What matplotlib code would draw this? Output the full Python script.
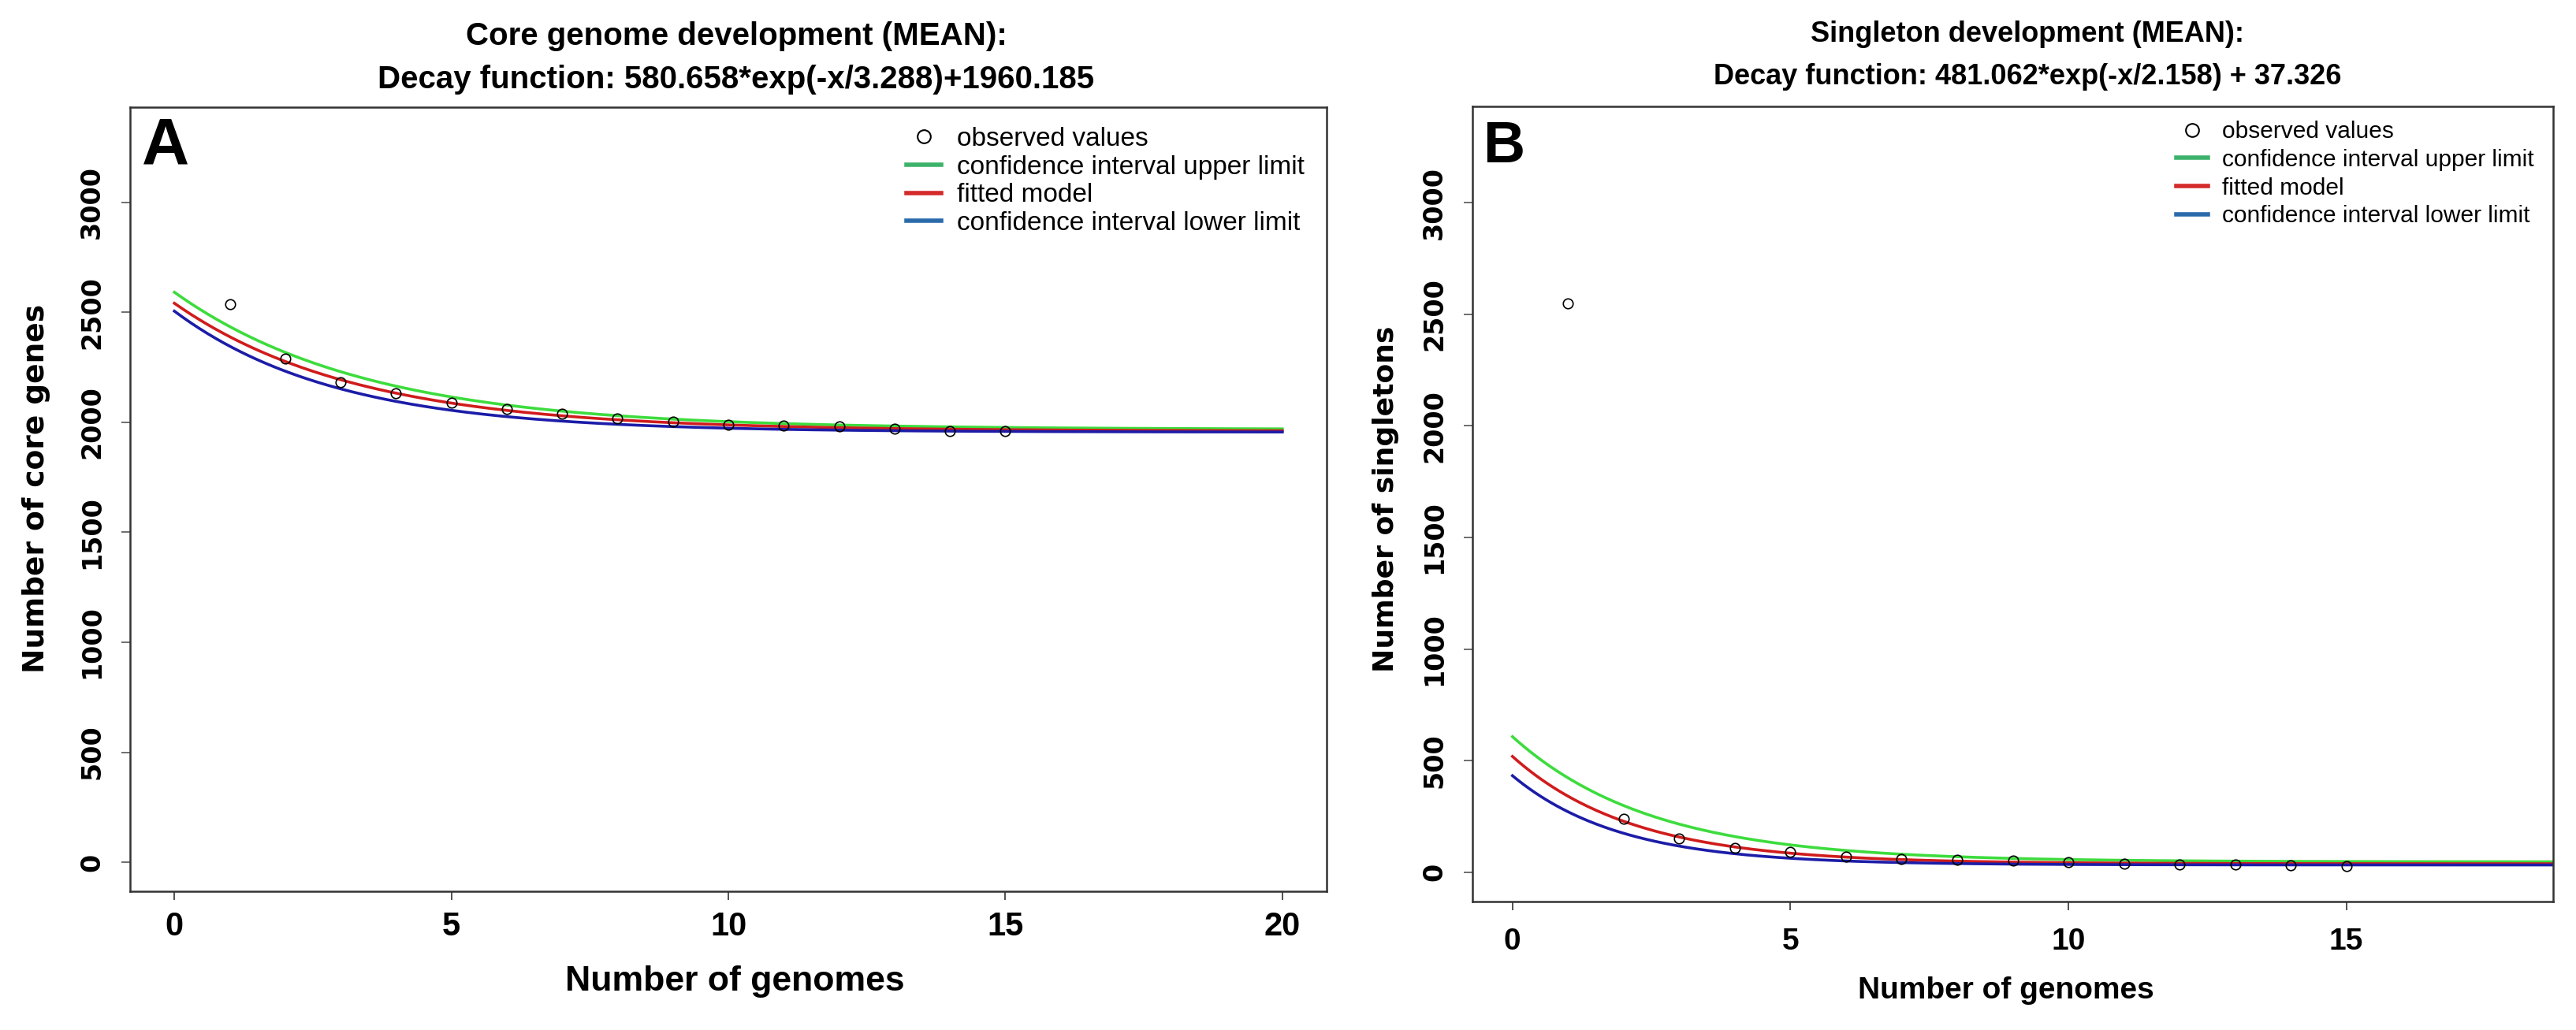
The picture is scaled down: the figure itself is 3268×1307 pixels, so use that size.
import numpy as np
import matplotlib
matplotlib.use("Agg")
import matplotlib.pyplot as plt
from matplotlib.lines import Line2D

genomes = [1, 2, 3, 4, 5, 6, 7, 8, 9, 10, 11, 12, 13, 14, 15]
core_obs = [2538, 2288, 2183, 2130, 2088, 2059, 2037, 2017, 2002, 1990, 1984, 1980, 1969, 1961, 1961]
single_obs = [2548, 239, 150, 108, 90, 68, 60, 56, 52, 45, 39, 34, 33, 31, 28]

# decay curves a*exp(-x/tau)+c : fitted model from the titles, CI limits estimated
core_fit = [580.658, 3.288, 1960.185]
core_upper = [623.0, 3.46, 1968.0]
core_lower = [550.0, 2.92, 1955.0]
single_fit = [481.062, 2.158, 37.326]
single_upper = [561.0, 2.5, 46.0]
single_lower = [400.0, 1.93, 32.0]

y_ticks = [0, 500, 1000, 1500, 2000, 2500, 3000]

W, H = 3268, 1307
fig = plt.figure(figsize=(W / 100, H / 100), dpi=100)
fig.patch.set_facecolor("white")

ax1 = fig.add_axes([165 / W, 1 - 1131 / H, (1683 - 165) / W, (1131 - 136) / H])
ax2 = fig.add_axes([1868 / W, 1 - 1144 / H, (3239 - 1868) / W, (1144 - 135) / H])

col_up, col_fit, col_low = "#3ddc3d", "#d01c1c", "#1c1ca8"


def decay(p, x):
    return p[0] * np.exp(-x / p[1]) + p[2]


def draw_panel(ax, obs, fit, up, low, xmax, xticks, xpad, xfs):
    xs = np.linspace(0, 20, 400)
    ax.plot(xs, decay(up, xs), color=col_up, lw=2.6)
    ax.plot(xs, decay(fit, xs), color=col_fit, lw=2.6)
    ax.plot(xs, decay(low, xs), color=col_low, lw=2.6)
    ax.plot(genomes, obs, "o", mfc="none", mec="black", ms=9, mew=1.2)
    ax.set_xlim(-0.04 * xmax, xmax * 1.04)
    ax.set_ylim(-132, 3432)
    ax.set_xticks(xticks)
    ax.set_xticklabels([str(t) for t in xticks], fontfamily="Liberation Sans",
                       fontweight="bold", fontsize=xfs)
    ax.set_yticks(y_ticks)
    ax.set_yticklabels([str(t) for t in y_ticks], rotation=90, va="center",
                       fontfamily="DejaVu Sans", fontweight="bold", fontsize=24)
    ax.tick_params(axis="x", length=8, width=1.2, pad=xpad, color="#333333")
    ax.tick_params(axis="y", length=8, width=1.2, pad=15, color="#555555")
    for s in ax.spines.values():
        s.set_color("#333333")
        s.set_linewidth(1.8)


draw_panel(ax1, core_obs, core_fit, core_upper, core_lower, 20, [0, 5, 10, 15, 20], 10, 30)
draw_panel(ax2, single_obs, single_fit, single_upper, single_lower, 18, [0, 5, 10, 15], 16, 28)

# legends
labels = ["observed values", "confidence interval upper limit", "fitted model",
          "confidence interval lower limit"]
handles = [Line2D([], [], ls="none", marker="o", mfc="none", mec="black", ms=12, mew=1.5),
           Line2D([], [], color="#3cb36a", lw=4),
           Line2D([], [], color="#d42a2a", lw=4),
           Line2D([], [], color="#2a6aaa", lw=4)]
ax1.legend(handles, labels, loc="upper left", bbox_to_anchor=(0.649, 0.975), frameon=False,
           prop={"family": "Liberation Sans", "size": 24}, handlelength=1.3,
           handletextpad=0.6, labelspacing=0.14, borderpad=0, borderaxespad=0)
ax2.legend(handles, labels, loc="upper left", bbox_to_anchor=(0.651, 0.982), frameon=False,
           prop={"family": "Liberation Sans", "size": 21.5}, handlelength=1.35,
           handletextpad=0.6, labelspacing=0.26, borderpad=0, borderaxespad=0)

# titles
fig.text(934 / W, 1 - 57 / H, "Core genome development (MEAN):", ha="center", va="baseline",
         fontfamily="Liberation Sans", fontweight="bold", fontsize=29)
fig.text(934 / W, 1 - 112 / H, "Decay function: 580.658*exp(-x/3.288)+1960.185", ha="center",
         va="baseline", fontfamily="Liberation Sans", fontweight="bold", fontsize=29)
fig.text(2572 / W, 1 - 53 / H, "Singleton development (MEAN):", ha="center", va="baseline",
         fontfamily="Liberation Sans", fontweight="bold", fontsize=26)
fig.text(2572 / W, 1 - 107 / H, "Decay function: 481.062*exp(-x/2.158) + 37.326", ha="center",
         va="baseline", fontfamily="Liberation Sans", fontweight="bold", fontsize=26)

# panel letters
fig.text(180 / W, 1 - 208 / H, "A", ha="left", va="baseline", fontfamily="Liberation Sans",
         fontweight="bold", fontsize=60)
fig.text(1881 / W, 1 - 206 / H, "B", ha="left", va="baseline", fontfamily="Liberation Sans",
         fontweight="bold", fontsize=53)

# axis labels
fig.text(46 / W, 1 - 620 / H, "Number of core genes", rotation=90, ha="center", va="center",
         fontfamily="DejaVu Sans", fontweight="bold", fontsize=27)
fig.text(1758 / W, 1 - 633 / H, "Number of singletons", rotation=90, ha="center", va="center",
         fontfamily="DejaVu Sans", fontweight="bold", fontsize=26)
fig.text(932 / W, 1 - 1245 / H, "Number of genomes", ha="center", va="center",
         fontfamily="Liberation Sans", fontweight="bold", fontsize=32)
fig.text(2545 / W, 1 - 1257 / H, "Number of genomes", ha="center", va="center",
         fontfamily="Liberation Sans", fontweight="bold", fontsize=28)

fig.savefig("out.png", dpi=100, facecolor="white")
